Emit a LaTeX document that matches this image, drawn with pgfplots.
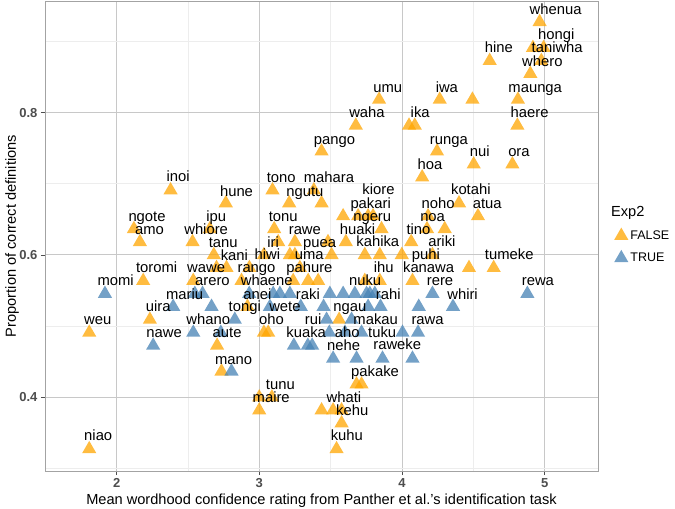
\documentclass[border=0pt]{standalone}
\usepackage{pgfplots}
\pgfplotsset{compat=1.18}
\usepackage{fontspec}
\setmainfont{Liberation Sans}

\definecolor{falsecol}{HTML}{FFA500}
\definecolor{truecol}{HTML}{4682B4}
\definecolor{gridmajor}{HTML}{C8C8C8}
\definecolor{gridminor}{HTML}{EDEDED}
\definecolor{panelborder}{HTML}{A3A3A3}
\definecolor{ticklab}{HTML}{4D4D4D}

\newcommand{\labelfont}{\fontsize{14.8bp}{16bp}\selectfont}

\begin{document}
\begin{tikzpicture}
\begin{axis}[
  at={(45bp,38bp)}, anchor=south west,
  width=553bp, height=470bp, scale only axis,
  xmin=1.498, xmax=5.373, ymin=0.2965, ymax=0.9567,
  xtick={2,3,4,5}, xticklabels={2,3,4,5},
  ytick={0.4,0.6,0.8}, yticklabels={0.4,0.6,0.8},
  minor xtick={2.5,3.5,4.5}, minor ytick={0.3,0.5,0.7,0.9},
  grid=both,
  major grid style={color=gridmajor, line width=1.1bp},
  minor grid style={color=gridminor, line width=0.6bp},
  axis line style={color=panelborder, line width=0.9bp},
  tick align=outside, tick pos=left,
  major tick length=4bp, minor tick length=0bp,
  tick style={color=ticklab, line width=0.8bp},
  xticklabel style={font=\fontsize{13bp}{14bp}\selectfont\bfseries, text=ticklab},
  yticklabel style={font=\fontsize{13bp}{14bp}\selectfont\bfseries, text=ticklab},
  every axis x label/.style={at={(axis description cs:0.5,-0.0623)}, anchor=center,
    font=\fontsize{14.6bp}{16bp}\selectfont},
  every axis y label/.style={at={(axis description cs:-0.0597,0.5)}, rotate=90, anchor=center,
    font=\fontsize{14.6bp}{16bp}\selectfont},
  xlabel={Mean wordhood confidence rating from Panther et al.'s identification task},
  ylabel={Proportion of correct definitions},
  legend style={at={(axis description cs:1.0,0.478)}, anchor=west, xshift=13bp,
    draw=none, fill=none, font=\fontsize{12.5bp}{14bp}\selectfont, row sep=7bp},
  legend cell align=left,
]

% Words not in the second experiment
\addplot[only marks, mark=triangle*, mark size=8.2bp,
  mark options={draw opacity=0, fill=falsecol, fill opacity=0.75}] table {
x y
4.964 0.9273
4.917 0.8909
4.992 0.8909
4.976 0.8727
4.614 0.8727
4.899 0.8545
3.839 0.8182
4.264 0.8182
4.493 0.8182
4.812 0.8182
3.676 0.7818
4.049 0.7818
4.089 0.7818
4.808 0.7818
3.436 0.7455
4.245 0.7455
4.502 0.7273
4.773 0.7273
4.141 0.7091
2.378 0.6909
3.092 0.6909
3.382 0.6909
2.765 0.6727
3.209 0.6727
3.436 0.6727
4.399 0.6727
3.587 0.6545
3.692 0.6545
3.762 0.6545
3.797 0.6545
4.182 0.6545
4.532 0.6545
2.121 0.6364
2.653 0.6364
3.104 0.6364
3.856 0.6364
4.175 0.6364
4.299 0.6364
2.163 0.6182
2.532 0.6182
3.132 0.6182
3.249 0.6182
3.481 0.6182
3.606 0.6182
4.064 0.6182
2.681 0.6000
3.032 0.6000
3.214 0.6000
3.249 0.6000
3.506 0.6000
3.739 0.6000
3.844 0.6000
3.998 0.6000
4.213 0.6000
2.700 0.5818
2.770 0.5818
2.930 0.5818
3.284 0.5818
4.469 0.5818
4.642 0.5818
2.186 0.5636
2.537 0.5636
2.875 0.5636
3.237 0.5636
3.342 0.5636
3.412 0.5636
3.739 0.5636
3.844 0.5636
4.073 0.5636
2.917 0.5273
2.233 0.5091
3.559 0.5091
1.808 0.4909
3.032 0.4909
3.062 0.4909
2.704 0.4727
2.735 0.4364
3.681 0.4182
3.716 0.4182
2.999 0.4000
3.088 0.4000
2.999 0.3818
3.436 0.3818
3.517 0.3818
3.576 0.3818
3.576 0.3636
3.541 0.3273
1.808 0.3273
};
\addlegendentry{FALSE}

% Words used in the second experiment
\addplot[only marks, mark=triangle*, mark size=8.2bp,
  mark options={draw opacity=0, fill=truecol, fill opacity=0.75}] table {
x y
1.918 0.5455
2.548 0.5455
2.602 0.5455
2.929 0.5455
3.097 0.5455
3.144 0.5455
3.214 0.5455
3.494 0.5455
3.587 0.5455
3.669 0.5455
3.751 0.5455
3.774 0.5455
3.809 0.5455
4.213 0.5455
4.878 0.5455
2.396 0.5273
2.665 0.5273
3.074 0.5273
3.290 0.5273
3.450 0.5273
3.762 0.5273
3.849 0.5273
4.117 0.5273
4.357 0.5273
2.828 0.5091
3.471 0.5091
3.646 0.5091
2.537 0.4909
2.730 0.4909
3.490 0.4909
3.600 0.4909
3.716 0.4909
4.003 0.4909
4.112 0.4909
2.256 0.4727
3.242 0.4727
3.340 0.4727
3.370 0.4727
3.517 0.4545
3.681 0.4545
3.863 0.4545
4.073 0.4545
2.805 0.4364
};
\addlegendentry{TRUE}

% Word labels, placed beside their points
\addplot[only marks, mark=none, forget plot,
  nodes near coords, point meta=explicit symbolic,
  every node near coord/.append style={anchor=base, yshift=-4.5bp, inner sep=0pt,
    font=\labelfont, text=black}] table[meta=t] {
x y t
5.076 0.9437 whenua
5.081 0.909 hongi
5.087 0.890 taniwha
4.983 0.8715 whero
4.679 0.890 hine
3.900 0.834 umu
4.314 0.834 iwa
4.933 0.834 maunga
3.754 0.799 waha
4.127 0.799 ika
4.894 0.799 haere
3.527 0.762 pango
4.328 0.762 runga
4.544 0.744 nui
4.819 0.744 ora
4.195 0.727 hoa
2.431 0.709 inoi
3.153 0.708 tono
3.488 0.708 mahara
2.840 0.689 hune
3.319 0.689 ngutu
3.835 0.691 kiore
4.482 0.691 kotahi
3.780 0.672 pakari
4.252 0.672 noho
4.597 0.672 atua
2.213 0.653 ngote
2.698 0.653 ipu
3.167 0.653 tonu
3.791 0.653 ngeru
4.214 0.653 noa
2.230 0.6345 amo
2.627 0.6345 whiore
3.319 0.635 rawe
3.688 0.635 huaki
4.115 0.635 tino
2.747 0.617 tanu
3.097 0.617 iri
3.422 0.617 puea
3.830 0.618 kahika
4.279 0.618 ariki
2.825 0.599 kani
3.056 0.600 hiwi
3.350 0.600 uma
4.167 0.600 puhi
4.751 0.600 tumeke
2.280 0.582 toromi
2.627 0.582 wawe
2.980 0.581 rango
3.351 0.581 pahure
3.871 0.581 ihu
4.186 0.581 kanawa
1.993 0.563 momi
2.671 0.563 arero
3.052 0.563 whaene
3.741 0.563 nuku
4.266 0.563 rere
4.952 0.563 rewa
2.476 0.544 mariu
2.986 0.544 anei
3.340 0.544 raki
3.903 0.544 rahi
4.424 0.544 whiri
2.291 0.527 uira
2.898 0.527 tongi
3.179 0.527 wete
3.634 0.527 ngau
1.868 0.508 weu
2.642 0.508 whano
3.085 0.508 oho
3.377 0.508 rui
3.815 0.509 makau
4.179 0.509 rawa
2.333 0.491 nawe
2.774 0.491 aute
3.328 0.491 kuaka
3.616 0.490 aho
3.861 0.491 tuku
3.590 0.472 nehe
3.966 0.473 raweke
2.820 0.453 mano
3.811 0.435 pakake
3.147 0.418 tunu
3.083 0.3994 maire
3.593 0.3994 whati
3.651 0.381 kehu
3.613 0.345 kuhu
1.871 0.345 niao
};
\end{axis}

% Legend heading
\node[anchor=west, inner sep=0pt, font=\fontsize{14.6bp}{16bp}\selectfont]
  at (611bp,295.7bp) {Exp2};

\pgfresetboundingbox
\path (0,0) rectangle (675bp,509bp);
\end{tikzpicture}
\end{document}
